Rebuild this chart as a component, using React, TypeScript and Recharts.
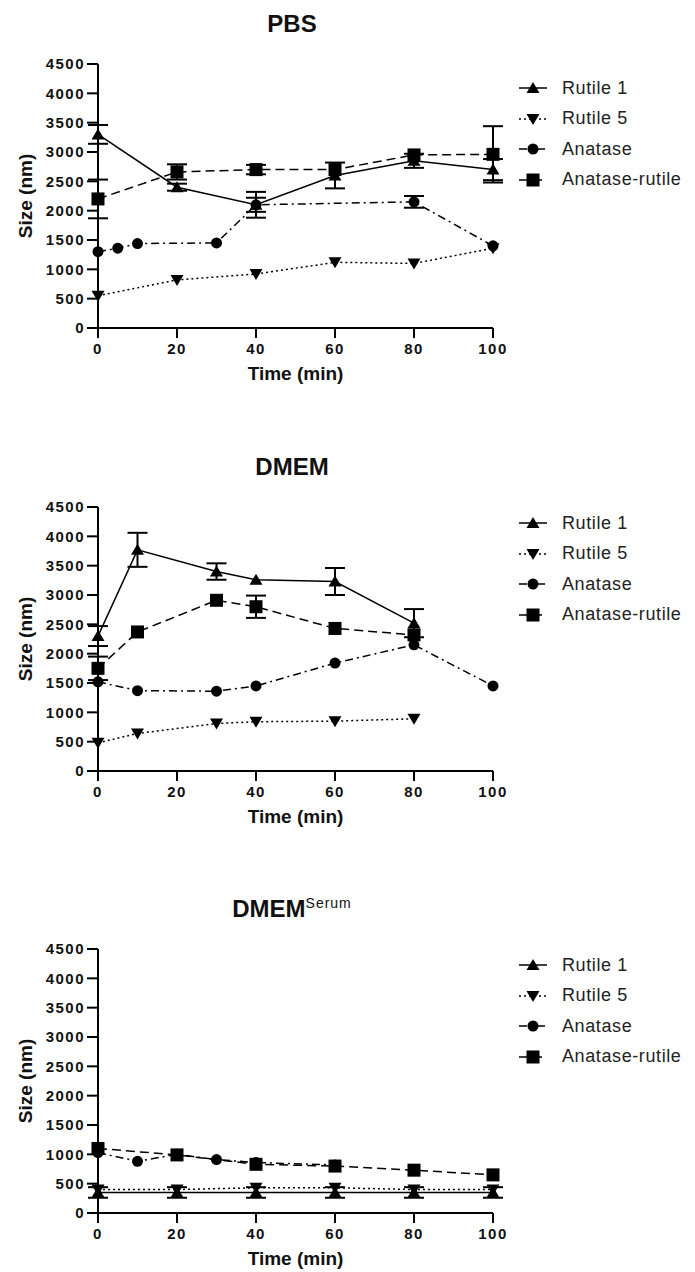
import React from "react";
import { LineChart, Line, XAxis, YAxis, ErrorBar, Legend } from "recharts";

// shared axes
const timeTicks = [0, 20, 40, 60, 80, 100];
const sizeTicks = [0, 500, 1000, 1500, 2000, 2500, 3000, 3500, 4000, 4500];
const t20 = [0, 20, 40, 60, 80, 100];
const seriesOrder = ["Rutile 1", "Rutile 5", "Anatase", "Anatase-rutile"];

// PBS
const pbsRutile1 = [3300, 2400, 2100, 2600, 2850, 2700];
const pbsRutile1Err = [160, 60, 220, 220, 120, 180];
const pbsRutile5 = [550, 820, 920, 1120, 1100, 1360];
const pbsAnataseTime = [0, 5, 10, 30, 40, 80, 100];
const pbsAnatase = [1300, 1360, 1440, 1450, 2100, 2150, 1400];
const pbsAnataseErr = [0, 0, 0, 0, 120, 100, 0];
const pbsAnRutile = [2200, 2660, 2700, 2700, 2950, 2960];
const pbsAnRutileErr = [330, 130, 80, 0, 0, 480];

// DMEM
const dmemTime = [0, 10, 30, 40, 60, 80];
const dmemRutile1 = [2300, 3770, 3400, 3260, 3230, 2520];
const dmemRutile1Err = [170, 290, 140, 0, 230, 240];
const dmemRutile5 = [480, 640, 810, 840, 850, 890];
const dmemAnataseTime = [0, 10, 30, 40, 60, 80, 100];
const dmemAnatase = [1520, 1370, 1360, 1450, 1840, 2150, 1450];
const dmemAnRutile = [1750, 2370, 2910, 2800, 2430, 2320];
const dmemAnRutileErr = [200, 0, 0, 190, 0, 0];

// DMEM + serum
const serumRutile1 = [350, 350, 350, 350, 350, 350];
const serumRutile1Err = [90, 90, 90, 90, 90, 90];
const serumRutile5 = [400, 400, 430, 430, 400, 400];
const serumAnataseTime = [0, 10, 20, 30, 40, 60];
const serumAnatase = [1030, 880, 1000, 910, 860, 820];
const serumAnRutile = [1100, 990, 830, 800, 730, 650];

type Shape = "up" | "down" | "circle" | "square";
type Pt = { t: number; v: number; e: number };

const toPts = (t: number[], v: number[], e?: number[]): Pt[] =>
  t.map((x, i) => ({ t: x, v: v[i], e: e ? e[i] : 0 }));

const styles: Record<string, { shape: Shape; dash?: string }> = {
  "Rutile 1": { shape: "up" },
  "Rutile 5": { shape: "down", dash: "2 3" },
  Anatase: { shape: "circle", dash: "8 4 2 4" },
  "Anatase-rutile": { shape: "square", dash: "9 5" },
};

function Marker({ shape, cx, cy }: { shape: Shape; cx: number; cy: number }) {
  if (shape === "square") return <rect x={cx - 6.5} y={cy - 6.5} width={13} height={13} fill="#000" />;
  if (shape === "circle") return <circle cx={cx} cy={cy} r={5.5} fill="#000" />;
  if (shape === "up")
    return <polygon points={`${cx - 6.5},${cy + 5} ${cx + 6.5},${cy + 5} ${cx},${cy - 6}`} fill="#000" />;
  return <polygon points={`${cx - 6.5},${cy - 5} ${cx + 6.5},${cy - 5} ${cx},${cy + 6}`} fill="#000" />;
}

const dotFor = (shape: Shape) => (p: any) =>
  <Marker key={`${shape}-${p.index}`} shape={shape} cx={p.cx} cy={p.cy} />;

interface Series { name: string; data: Pt[] }

function LegendBox({ payload }: any) {
  const items = [...(payload || [])].sort(
    (a: any, b: any) => seriesOrder.indexOf(a.value) - seriesOrder.indexOf(b.value)
  );
  return (
    <div>
      {items.map((entry: any) => {
        const s = styles[entry.value];
        return (
          <div key={entry.value} style={{ height: 30.5, display: "flex", alignItems: "center" }}>
            <svg width={30} height={16} style={{ marginRight: 13 }}>
              <line x1={0} y1={8} x2={28} y2={8} stroke="#000" strokeWidth={1.5} strokeDasharray={s.dash} />
              <Marker shape={s.shape} cx={14} cy={8} />
            </svg>
            <span style={{ fontSize: 18, color: "#222", letterSpacing: 0.6 }}>{entry.value}</span>
          </div>
        );
      })}
    </div>
  );
}

function Panel({ top, title, series, legendTop }: { top: number; title: React.ReactNode; series: Series[]; legendTop: number }) {
  return (
    <div style={{ position: "absolute", left: 0, top, width: 695, height: 390 }}>
      <div style={{ position: "absolute", left: 192, width: 200, top: 10, textAlign: "center", fontSize: 24, fontWeight: "bold", color: "#111" }}>
        {title}
      </div>
      {/* the legend's 176px are taken off the right side by recharts, so the plot ends at x=493 */}
      <LineChart width={695} height={390} margin={{ top: 64, right: 26, left: 0, bottom: 0 }}>
        <XAxis
          type="number"
          dataKey="t"
          domain={[0, 100]}
          ticks={timeTicks}
          height={62}
          axisLine={{ stroke: "#000", strokeWidth: 2 }}
          tickLine={{ stroke: "#000", strokeWidth: 2 }}
          tickSize={10}
          tickMargin={5}
          tick={{ fontSize: 15, fontWeight: "bold", fill: "#111", letterSpacing: 1.5 }}
          label={{ value: "Time (min)", position: "insideBottom", offset: 10, fontSize: 19, fontWeight: "bold", fill: "#111" }}
        />
        <YAxis
          type="number"
          domain={[0, 4500]}
          ticks={sizeTicks}
          interval={0}
          width={98}
          axisLine={{ stroke: "#000", strokeWidth: 2 }}
          tickLine={{ stroke: "#000", strokeWidth: 2 }}
          tickSize={11}
          tickMargin={2}
          tick={{ fontSize: 15, fontWeight: "bold", fill: "#111", letterSpacing: 1.5 }}
          label={{
            content: (p: any) => {
              const vb = p.viewBox;
              const cy = vb.y + vb.height / 2;
              return (
                <text x={25} y={cy} transform={`rotate(-90 25 ${cy})`} textAnchor="middle" dominantBaseline="central" fontSize={19} fontWeight="bold" fill="#111">
                  Size (nm)
                </text>
              );
            },
          }}
        />
        <Legend
          layout="vertical"
          verticalAlign="top"
          align="right"
          content={<LegendBox />}
          wrapperStyle={{ left: 519, top: legendTop, width: 176 }}
        />
        {series.map((s) => {
          const st = styles[s.name];
          return (
            <Line
              key={s.name}
              name={s.name}
              data={s.data}
              dataKey="v"
              stroke="#000"
              strokeWidth={1.5}
              strokeDasharray={st.dash}
              dot={dotFor(st.shape)}
              activeDot={false}
              isAnimationActive={false}
            >
              <ErrorBar dataKey="e" width={10} strokeWidth={2} stroke="#000" direction="y" />
            </Line>
          );
        })}
      </LineChart>
    </div>
  );
}

export default function App() {
  const pbs: Series[] = [
    { name: "Rutile 1", data: toPts(t20, pbsRutile1, pbsRutile1Err) },
    { name: "Rutile 5", data: toPts(t20, pbsRutile5) },
    { name: "Anatase", data: toPts(pbsAnataseTime, pbsAnatase, pbsAnataseErr) },
    { name: "Anatase-rutile", data: toPts(t20, pbsAnRutile, pbsAnRutileErr) },
  ];
  const dmem: Series[] = [
    { name: "Rutile 1", data: toPts(dmemTime, dmemRutile1, dmemRutile1Err) },
    { name: "Rutile 5", data: toPts(dmemTime, dmemRutile5) },
    { name: "Anatase", data: toPts(dmemAnataseTime, dmemAnatase) },
    { name: "Anatase-rutile", data: toPts(dmemTime, dmemAnRutile, dmemAnRutileErr) },
  ];
  const serum: Series[] = [
    { name: "Rutile 1", data: toPts(t20, serumRutile1, serumRutile1Err) },
    { name: "Rutile 5", data: toPts(t20, serumRutile5) },
    { name: "Anatase", data: toPts(serumAnataseTime, serumAnatase) },
    { name: "Anatase-rutile", data: toPts(t20, serumAnRutile) },
  ];
  return (
    <div style={{ position: "absolute", left: 0, top: 0, width: 695, height: 1272, overflow: "hidden", background: "#fff", fontFamily: '"Liberation Sans", Arial, sans-serif' }}>
      <Panel top={0} title="PBS" series={pbs} legendTop={73} />
      <Panel top={443} title="DMEM" series={dmem} legendTop={65} />
      <Panel
        top={885}
        title={
          <span>
            DMEM<sup style={{ fontSize: 14, fontWeight: "normal", letterSpacing: 1 }}>Serum</sup>
          </span>
        }
        series={serum}
        legendTop={65}
      />
    </div>
  );
}
